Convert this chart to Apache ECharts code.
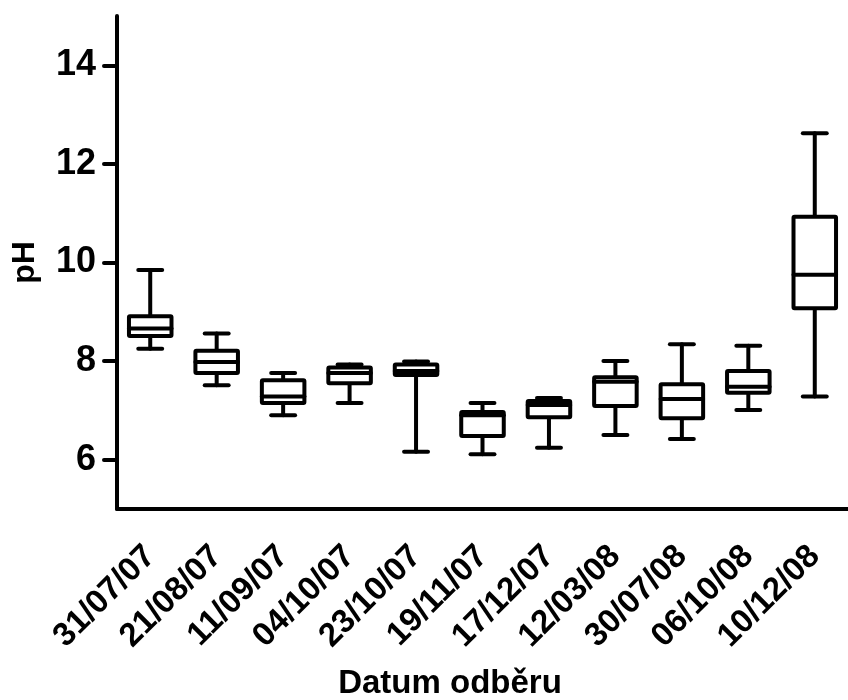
<!DOCTYPE html>
<html>
<head>
<meta charset="utf-8">
<script src="https://cdn.jsdelivr.net/npm/echarts@6/dist/echarts.min.js"></script>
<style>
  html, body { margin: 0; padding: 0; background: #fff; }
  #main { width: 848px; height: 700px; }
</style>
</head>
<body>
<div id="main"></div>
<script>
// data
var dates = ["31/07/07", "21/08/07", "11/09/07", "04/10/07", "23/10/07", "19/11/07",
             "17/12/07", "12/03/08", "30/07/08", "06/10/08", "10/12/08"];
var whiskerLow  = [8.25, 7.51, 6.90, 7.15, 6.16, 6.11, 6.24, 6.50, 6.42, 7.01, 7.28];
var quart1      = [8.51, 7.76, 7.15, 7.55, 7.72, 6.48, 6.86, 7.09, 6.84, 7.36, 9.07];
var median      = [8.66, 7.98, 7.28, 7.76, 7.80, 6.90, 7.11, 7.58, 7.23, 7.48, 9.75];
var quart3      = [8.91, 8.21, 7.61, 7.87, 7.93, 6.97, 7.19, 7.67, 7.53, 7.80, 10.93];
var whiskerHigh = [9.85, 8.56, 7.76, 7.93, 7.99, 7.15, 7.25, 8.00, 8.34, 8.31, 12.62];
var yTicks = [6, 8, 10, 12, 14];

var boxData = [];
for (var i = 0; i < dates.length; i++) {
    boxData.push([i, whiskerLow[i], quart1[i], median[i], quart3[i], whiskerHigh[i]]);
}

var lineStyle = { stroke: '#000', lineWidth: 4, lineCap: 'round', lineJoin: 'round' };

function renderBox(params, api) {
    var x = api.value(0);
    var lo = api.coord([x, api.value(1)]);
    var q1 = api.coord([x, api.value(2)]);
    var md = api.coord([x, api.value(3)]);
    var q3 = api.coord([x, api.value(4)]);
    var hi = api.coord([x, api.value(5)]);
    var band = api.size([1, 0])[0];
    var bw = band * 0.64 / 2;   // half box width
    var cw = band * 0.18;       // half cap width
    var cx = q1[0];
    return {
        type: 'group',
        children: [
            { type: 'line', shape: { x1: cx, y1: hi[1], x2: cx, y2: q3[1] }, style: lineStyle },
            { type: 'line', shape: { x1: cx, y1: q1[1], x2: cx, y2: lo[1] }, style: lineStyle },
            { type: 'line', shape: { x1: cx - cw, y1: hi[1], x2: cx + cw, y2: hi[1] }, style: lineStyle },
            { type: 'line', shape: { x1: cx - cw, y1: lo[1], x2: cx + cw, y2: lo[1] }, style: lineStyle },
            { type: 'rect', shape: { x: cx - bw, y: q3[1], width: bw * 2, height: q1[1] - q3[1], r: 1 },
              style: { fill: '#fff', stroke: '#000', lineWidth: 4, lineJoin: 'round' } },
            { type: 'line', shape: { x1: cx - bw, y1: md[1], x2: cx + bw, y2: md[1] }, style: lineStyle }
        ]
    };
}

var myChart = echarts.init(document.getElementById('main'));
var option = {
    animation: false,
    backgroundColor: '#fff',
    textStyle: { fontFamily: 'Liberation Sans', fontWeight: 'bold', color: '#000' },
    grid: { left: 117, right: -8, top: 16, bottom: 191 },
    xAxis: {
        type: 'category',
        data: dates,
        boundaryGap: true,
        axisLine: { lineStyle: { color: '#000', width: 4 } },
        axisTick: { alignWithLabel: true, length: 13, lineStyle: { color: '#000', width: 4, cap: 'round' } },
        axisLabel: {
            rotate: 45, margin: 42, interval: 0,
            color: '#000', fontSize: 33, fontWeight: 'bold', fontFamily: 'Liberation Sans'
        },
        splitLine: { show: false }
    },
    yAxis: {
        type: 'value',
        min: 5, max: 15,
        name: 'pH',
        nameLocation: 'middle',
        nameGap: 76,
        nameTextStyle: { color: '#000', fontSize: 32, fontWeight: 'bold', fontFamily: 'Liberation Sans' },
        axisLine: { show: true, lineStyle: { color: '#000', width: 4 } },
        axisTick: { show: true, length: 13, customValues: yTicks, lineStyle: { color: '#000', width: 4, cap: 'round' } },
        axisLabel: {
            customValues: yTicks, margin: 21,
            color: '#000', fontSize: 36, fontWeight: 'bold', fontFamily: 'Liberation Sans'
        },
        splitLine: { show: false }
    },
    graphic: [{
        type: 'text',
        x: 450, y: 684,
        style: {
            text: 'Datum odběru',
            fill: '#000',
            font: 'bold 33px "Liberation Sans"',
            textAlign: 'center',
            textVerticalAlign: 'middle'
        }
    }],
    series: [{
        type: 'custom',
        renderItem: renderBox,
        encode: { x: 0, y: [1, 2, 3, 4, 5] },
        data: boxData
    }]
};
myChart.setOption(option);
</script>
</body>
</html>
